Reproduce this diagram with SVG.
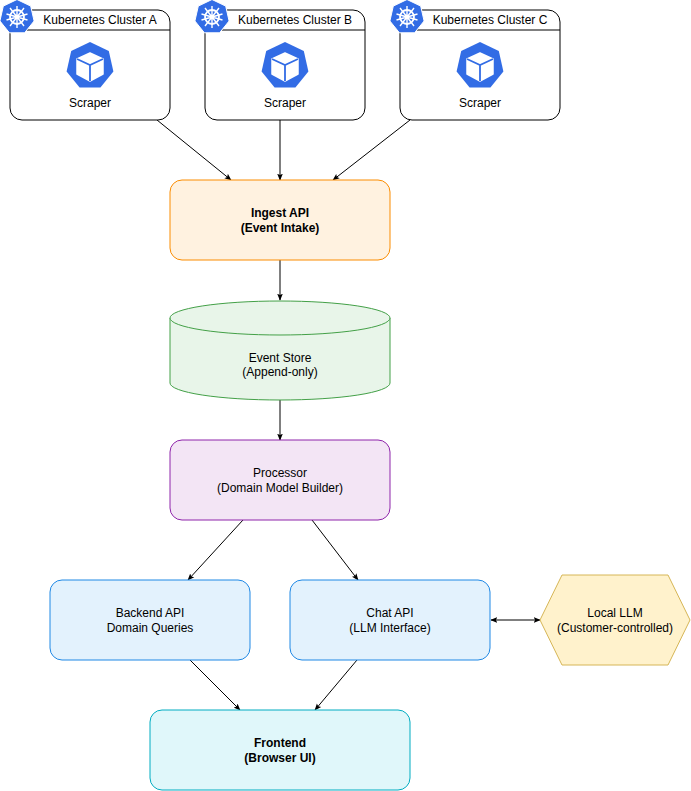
<svg xmlns="http://www.w3.org/2000/svg" xmlns:xlink="http://www.w3.org/1999/xlink" width="691" height="791" viewBox="0 0 691 791">
<style>
text{font-family:"Liberation Sans",Arial,sans-serif;font-size:12px;fill:#000;text-anchor:middle}
.b{font-weight:bold}
.c{fill:#fff;stroke:#000;stroke-width:1}
.e{stroke:#000;stroke-width:1;fill:none;marker-end:url(#a)}
</style>
<defs>
<marker id="a" viewBox="0 0 10 10" refX="9" refY="5" markerWidth="7" markerHeight="7" orient="auto-start-reverse"><path d="M0,1 L10,5 L0,9 L2,5 Z" fill="#000"/></marker>
<g id="pod">
<polygon points="0,-24 18.8,-15 23.4,5.4 10.4,21.6 -10.4,21.6 -23.4,5.4 -18.8,-15" fill="#326ce5"/>
<polygon points="-13,-7 0,-13 13,-7 13,8 0,15 -13,8" fill="#fff" stroke="#fff" stroke-width="1.5" stroke-linejoin="round"/>
<path d="M-13,-7 L0,-1 L13,-7 M0,-1 L0,15" stroke="#326ce5" stroke-width="1.8" fill="none"/>
</g>
<g id="k8s">
<polygon points="0,-17.5 13.7,-10.9 17.1,4 7.6,15.8 -7.6,15.8 -17.1,4 -13.7,-10.9" fill="#326ce5" stroke="#fff" stroke-width="1"/>
<circle r="7" fill="none" stroke="#fff" stroke-width="1.8"/>
<circle r="2" fill="#fff"/>
<path d="M0,-11 L0,11 M-10.5,-3 L10.5,3 M10.5,-3 L-10.5,3 M-7,9 L7,-9 M7,9 L-7,-9" stroke="#fff" stroke-width="1.4"/>
</g>
</defs>
<g id="connectors">
<path class="e" d="M157,120 L231,180"/>
<path class="e" d="M280,120 L280,180"/>
<path class="e" d="M410,120 L333,180"/>
<path class="e" d="M280,260 L280,300"/>
<path class="e" d="M280,400 L280,440"/>
<path class="e" d="M243,520 L188,580"/>
<path class="e" d="M312,520 L358,580"/>
<path class="e" d="M190,660 L240,710"/>
<path class="e" d="M357,660 L315,710"/>
<path class="e" d="M491,620 L540,620" marker-start="url(#a)"/>
</g>
<g id="clusterA">
<rect class="c" x="10" y="10" width="160" height="110" rx="12"/>
<line x1="10" y1="30" x2="170" y2="30" stroke="#000"/>
<text x="100" y="24">Kubernetes Cluster A</text>
<use xlink:href="#k8s" transform="translate(17,17)"/>
<use xlink:href="#pod" transform="translate(90,66)"/>
<text x="90" y="107">Scraper</text>
</g>
<g id="clusterB">
<rect class="c" x="205" y="10" width="160" height="110" rx="12"/>
<line x1="205" y1="30" x2="365" y2="30" stroke="#000"/>
<text x="295" y="24">Kubernetes Cluster B</text>
<use xlink:href="#k8s" transform="translate(212,17)"/>
<use xlink:href="#pod" transform="translate(285,66)"/>
<text x="285" y="107">Scraper</text>
</g>
<g id="clusterC">
<rect class="c" x="400" y="10" width="160" height="110" rx="12"/>
<line x1="400" y1="30" x2="560" y2="30" stroke="#000"/>
<text x="490" y="24">Kubernetes Cluster C</text>
<use xlink:href="#k8s" transform="translate(407,17)"/>
<use xlink:href="#pod" transform="translate(480,66)"/>
<text x="480" y="107">Scraper</text>
</g>
<g id="ingest">
<rect x="170" y="180" width="220" height="80" rx="12" fill="#fff2e0" stroke="#fb8c00"/>
<text class="b" x="280" y="217">Ingest API</text>
<text class="b" x="280" y="232">(Event Intake)</text>
</g>
<g id="store">
<path d="M170,318 L170,383 A110,17 0 0 0 390,383 L390,318" fill="#e8f5e9" stroke="#43a047"/>
<ellipse cx="280" cy="318" rx="110" ry="17" fill="#e8f5e9" stroke="#43a047"/>
<text x="280" y="362">Event Store</text>
<text x="280" y="376">(Append-only)</text>
</g>
<g id="processor">
<rect x="170" y="440" width="220" height="80" rx="12" fill="#f3e5f5" stroke="#8e24aa"/>
<text x="280" y="477">Processor</text>
<text x="280" y="492">(Domain Model Builder)</text>
</g>
<g id="backend">
<rect x="50" y="580" width="200" height="80" rx="12" fill="#e3f2fd" stroke="#1e88e5"/>
<text x="150" y="617">Backend API</text>
<text x="150" y="632">Domain Queries</text>
</g>
<g id="chat">
<rect x="290" y="580" width="200" height="80" rx="12" fill="#e3f2fd" stroke="#1e88e5"/>
<text x="390" y="617">Chat API</text>
<text x="390" y="632">(LLM Interface)</text>
</g>
<g id="llm">
<polygon points="540,620 562,575 668,575 690,620 668,665 562,665" fill="#fff2cc" stroke="#d6b656"/>
<text x="615" y="617">Local LLM</text>
<text x="615" y="632">(Customer-controlled)</text>
</g>
<g id="frontend">
<rect x="150" y="710" width="260" height="80" rx="12" fill="#e0f7fa" stroke="#00acc1"/>
<text class="b" x="280" y="747">Frontend</text>
<text class="b" x="280" y="762">(Browser UI)</text>
</g>
</svg>
